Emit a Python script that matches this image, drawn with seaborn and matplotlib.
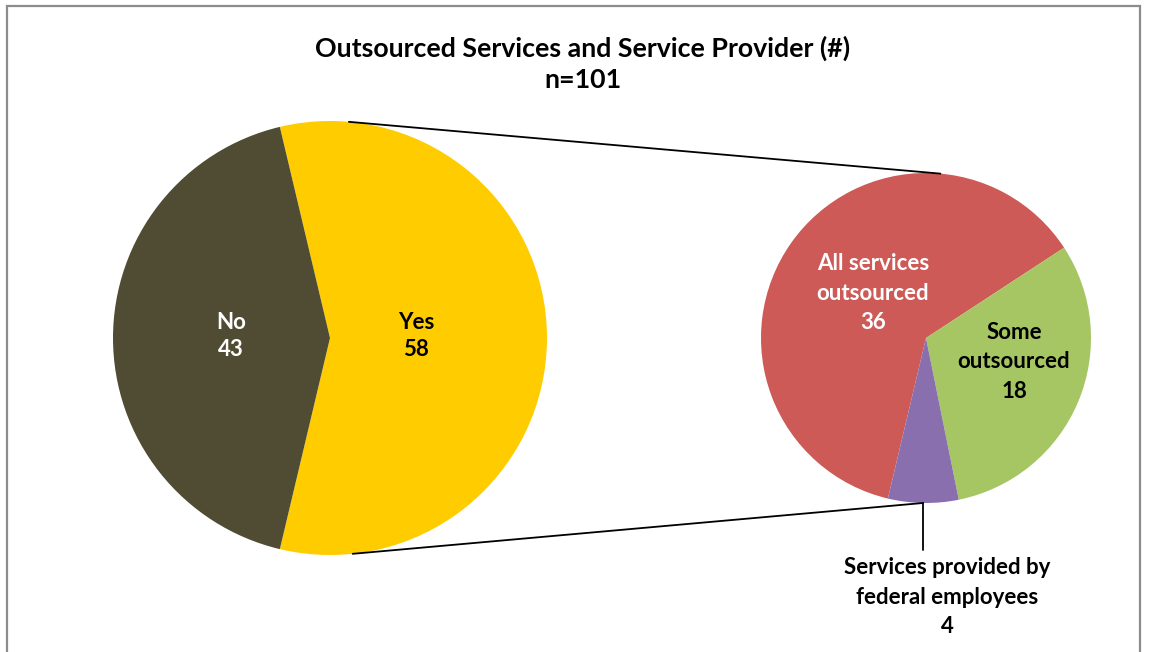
import numpy as np
import matplotlib
matplotlib.use("Agg")
import matplotlib.pyplot as plt
from matplotlib.patches import Rectangle
import seaborn as sns

# Survey answers: is any service outsourced?
main_labels = ["Yes", "No"]
main_values = [58, 43]

# Breakdown of the "Yes" answers
sub_labels = ["All services\noutsourced", "Some\noutsourced", "Services provided by\nfederal employees"]
sub_values = [36, 18, 4]

title_text = "Outsourced Services and Service Provider (#)\nn=101"

main_colors = ["#FFCC00", "#504C33"]
sub_colors = ["#CD5A57", "#A6C663", "#8A6FAF"]

sns.set_theme(style="white")
plt.rcParams["font.family"] = ["Lato", "DejaVu Sans"]
plt.rcParams["font.weight"] = "bold"

W, H = 1149, 652
fig = plt.figure(figsize=(W / 100, H / 100), dpi=100)
ax = fig.add_axes([0, 0, 1, 1])
ax.set_xlim(0, W)
ax.set_ylim(0, H)
ax.set_aspect("equal")
ax.axis("off")

def py(y):
    return H - y

# chart frame
ax.add_patch(Rectangle((7, py(660)), 1133, 654, fill=False,
                       edgecolor="#8C8C8C", linewidth=1.6, zorder=0))

# main pie: "Yes" centred on the right-hand side
c1 = (330, py(338))
r1 = 217
yes_frac = main_values[0] / sum(main_values)
start1 = -180 * yes_frac
ax.pie(main_values, colors=main_colors, center=c1, radius=r1,
       startangle=start1, counterclock=True,
       wedgeprops=dict(linewidth=0), frame=True)

# secondary pie: breakdown of "Yes"
c2 = (926, py(338))
r2 = 165
ax.pie(sub_values, colors=sub_colors, center=c2, radius=r2,
       startangle=start1, counterclock=False,
       wedgeprops=dict(linewidth=0), frame=True)

ax.set_xlim(0, W)
ax.set_ylim(0, H)
ax.axis("off")

# connector lines between the pies
def polar(c, r, deg):
    a = np.deg2rad(deg)
    return c[0] + r * np.cos(a), c[1] + r * np.sin(a)

p_top1 = polar(c1, r1, 85.0)
p_bot1 = polar(c1, r1, -84.0)
p_top2 = polar(c2, r2, 85.0)
p_bot2 = polar(c2, r2, -91.0)
ax.plot([p_top1[0], p_top2[0]], [p_top1[1], p_top2[1]], color="black", lw=1.3, zorder=1)
ax.plot([p_bot1[0], p_bot2[0]], [p_bot1[1], p_bot2[1]], color="black", lw=1.3, zorder=1)

# leader for the small slice
ax.plot([p_bot2[0], p_bot2[0]], [p_bot2[1], py(550)], color="black", lw=1.3, zorder=3)

fs = 16
ax.text(231, py(336), f"{main_labels[1]}\n{main_values[1]}", color="white",
        ha="center", va="center", fontsize=fs, fontweight="bold", linespacing=1.41)
ax.text(416, py(336), f"{main_labels[0]}\n{main_values[0]}", color="black",
        ha="center", va="center", fontsize=fs, fontweight="bold", linespacing=1.41)
ax.text(873, py(293), f"{sub_labels[0]}\n{sub_values[0]}", color="white",
        ha="center", va="center", fontsize=fs, fontweight="bold", linespacing=1.5)
ax.text(1014, py(362), f"{sub_labels[1]}\n{sub_values[1]}", color="black",
        ha="center", va="center", fontsize=fs, fontweight="bold", linespacing=1.5)
ax.text(947, py(597), f"{sub_labels[2]}\n{sub_values[2]}", color="black",
        ha="center", va="center", fontsize=fs, fontweight="bold", linespacing=1.5)

ax.text(583, py(64), title_text, color="black", ha="center", va="center",
        fontsize=19.3, fontweight="bold", linespacing=1.36)

fig.savefig("out.png", dpi=100)
